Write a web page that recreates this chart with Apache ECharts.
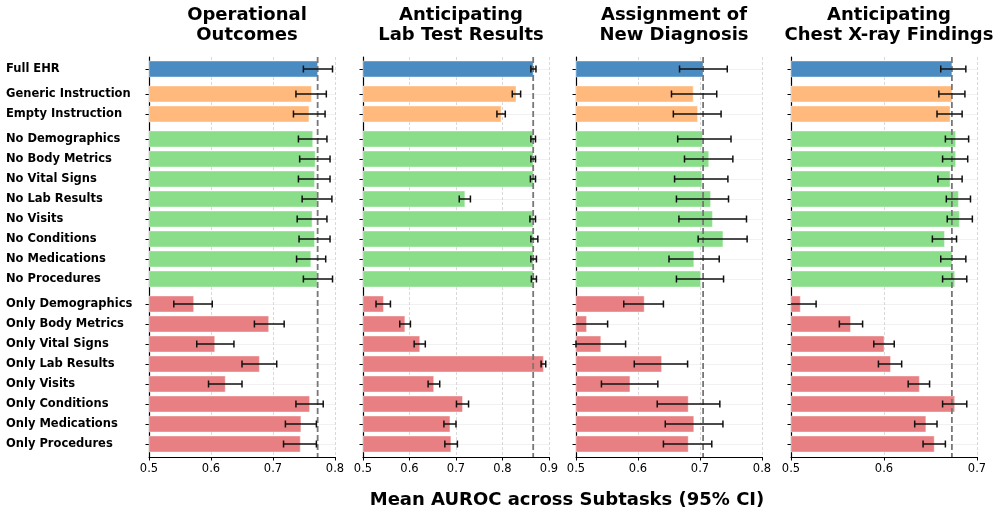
<!DOCTYPE html>
<html>
<head>
<meta charset="utf-8">
<script src="https://cdn.jsdelivr.net/npm/echarts@6/dist/echarts.min.js"></script>
<style>html,body{margin:0;padding:0;background:#fff}#c{width:996px;height:516px}</style>
</head>
<body>
<div id="c"></div>
<script>
const names = ['Full EHR','Generic Instruction','Empty Instruction','No Demographics','No Body Metrics','No Vital Signs','No Lab Results','No Visits','No Conditions','No Medications','No Procedures','Only Demographics','Only Body Metrics','Only Vital Signs','Only Lab Results','Only Visits','Only Conditions','Only Medications','Only Procedures'];
const groups = [0,1,1,2,2,2,2,2,2,2,2,3,3,3,3,3,3,3,3];
const panelTitles = ['Operational\nOutcomes','Anticipating\nLab Test Results','Assignment of\nNew Diagnosis','Anticipating\nChest X-ray Findings'];
const xMaxes = [0.8, 0.9, 0.8, 0.7];

const opMean = [0.772,0.762,0.758,0.764,0.768,0.767,0.771,0.763,0.767,0.761,0.771, 0.572,0.693,0.606,0.678,0.623,0.759,0.745,0.744];
const opLo   = [0.749,0.737,0.733,0.741,0.743,0.741,0.747,0.739,0.742,0.738,0.749, 0.540,0.670,0.577,0.650,0.596,0.737,0.720,0.717];
const opHi   = [0.796,0.786,0.784,0.787,0.792,0.792,0.795,0.787,0.792,0.785,0.796, 0.602,0.718,0.637,0.706,0.650,0.781,0.770,0.770];

const labMean = [0.866,0.829,0.797,0.866,0.866,0.866,0.719,0.866,0.866,0.866,0.866, 0.544,0.590,0.622,0.888,0.652,0.714,0.687,0.689];
const labLo   = [0.861,0.821,0.788,0.861,0.861,0.860,0.707,0.859,0.861,0.861,0.862, 0.528,0.579,0.610,0.883,0.640,0.701,0.674,0.676];
const labHi   = [0.872,0.839,0.806,0.871,0.871,0.871,0.731,0.871,0.876,0.873,0.873, 0.559,0.602,0.634,0.893,0.665,0.727,0.700,0.703];

const dxMean = [0.705,0.689,0.696,0.704,0.714,0.703,0.717,0.720,0.737,0.690,0.701, 0.610,0.517,0.540,0.638,0.587,0.681,0.690,0.681];
const dxLo   = [0.667,0.654,0.657,0.664,0.675,0.659,0.662,0.666,0.697,0.650,0.662, 0.577,0.484,0.500,0.594,0.541,0.631,0.644,0.641];
const dxHi   = [0.744,0.727,0.734,0.750,0.753,0.745,0.746,0.775,0.776,0.731,0.738, 0.641,0.551,0.580,0.680,0.632,0.732,0.737,0.719];

const cxrMean = [0.673,0.673,0.671,0.677,0.677,0.671,0.680,0.681,0.665,0.673,0.676, 0.510,0.564,0.600,0.607,0.638,0.676,0.645,0.654];
const cxrLo   = [0.661,0.659,0.657,0.666,0.663,0.658,0.667,0.668,0.652,0.661,0.663, 0.494,0.552,0.589,0.594,0.626,0.663,0.633,0.642];
const cxrHi   = [0.688,0.687,0.684,0.691,0.690,0.684,0.693,0.695,0.678,0.688,0.689, 0.527,0.577,0.611,0.619,0.649,0.689,0.657,0.666];

const panels = [[opMean,opLo,opHi],[labMean,labLo,labHi],[dxMean,dxLo,dxHi],[cxrMean,cxrLo,cxrHi]];
const palette = ['#4a8cc2','#ffb97c','#8ade8a','#e88083'];
const FONT = 'DejaVu Sans';

// row position: index plus a small gap between groups
const pos = names.map((n,i)=> i + 0.25*groups[i]);
const posName = {};
pos.forEach((p,i)=>{ posName[Math.round(p*100)] = names[i]; });
const yMin = -0.6, yMax = 19.4;

const gridLefts = [149, 363, 576, 791];
const gridW = 186, gridTop = 57, gridH = 400;

const option = {
  animation:false,
  backgroundColor:'#fff',
  title: panelTitles.map((t,k)=>({
    text:t, left: gridLefts[k]+gridW/2, top: 0, textAlign:'center',
    textStyle:{fontFamily:FONT, fontSize:18, fontWeight:'bold', color:'#000', lineHeight:20}
  })).concat([{
    text:'Mean AUROC across Subtasks (95% CI)', left: 562, top: 486, textAlign:'center',
    textStyle:{fontFamily:FONT, fontSize:18, fontWeight:'bold', color:'#000'}
  }]),
  grid: gridLefts.map(l=>({left:l, top:gridTop, width:gridW, height:gridH, containLabel:false})),
  xAxis: xMaxes.map((mx,k)=>({
    type:'value', gridIndex:k, min:0.5, max:mx, interval:0.1,
    axisLine:{show:true, onZero:false, lineStyle:{color:'#000', width:1.2}},
    axisTick:{show:true, length:3.5, lineStyle:{color:'#000', width:1}},
    axisLabel:{fontFamily:FONT, fontSize:11.5, color:'#000', margin:6,
      formatter:v=>v.toFixed(1)},
    splitLine:{show:true, lineStyle:{color:'#cfcfcf', type:[3,2], width:0.8}}
  })),
  yAxis: xMaxes.map((mx,k)=>({
    type:'value', gridIndex:k, min:yMin, max:yMax, inverse:true,
    axisLine:{show:true, onZero:false, lineStyle:{color:'#000', width:1.2}},
    axisTick:{show:true, length:3.5, customValues:pos, lineStyle:{color:'#000', width:1}},
    axisLabel:{show:k===0, customValues:pos, align:'left', margin:143,
      fontFamily:FONT, fontSize:11.5, fontWeight:'bold', color:'#000',
      formatter:v=>posName[Math.round(v*100)]||''},
    splitLine:{show:true, lineStyle:{color:'#eeeeee', width:0.8}}
  })),
  series: []
};

panels.forEach((pd,k)=>{
  const [mean, lo, hi] = pd;
  option.series.push({
    type:'custom', xAxisIndex:k, yAxisIndex:k, z:2,
    data: mean.map((m,i)=>[m, pos[i], groups[i]]),
    renderItem:(params, api)=>{
      const v = api.value(0), p = api.value(1), g = api.value(2);
      const a = api.coord([0.5, p]);
      const b = api.coord([v, p]);
      const h = api.size([0, 0.8])[1];
      return {type:'rect', shape:{x:a[0], y:a[1]-h/2, width:b[0]-a[0], height:h},
        style:{fill:palette[g], stroke:'rgba(255,255,255,0.5)', lineWidth:0.8}};
    }
  });
  option.series.push({
    type:'line', xAxisIndex:k, yAxisIndex:k, z:3, symbol:'none', silent:true,
    data:[[mean[0], yMin],[mean[0], yMax]],
    lineStyle:{color:'#777', width:1.8, type:[6,3]}
  });
  option.series.push({
    type:'custom', xAxisIndex:k, yAxisIndex:k, z:4,
    data: lo.map((l,i)=>[l, hi[i], pos[i]]),
    renderItem:(params, api)=>{
      const l = api.value(0), h = api.value(1), p = api.value(2);
      const lc = Math.max(l, 0.5);
      const a = api.coord([lc, p]);
      const b = api.coord([h, p]);
      const cap = 3.5;
      const st = {stroke:'#111', lineWidth:1.5};
      const ch = [
        {type:'line', shape:{x1:a[0], y1:a[1], x2:b[0], y2:b[1]}, style:st},
        {type:'line', shape:{x1:b[0], y1:b[1]-cap, x2:b[0], y2:b[1]+cap}, style:st}
      ];
      if (l >= 0.5) ch.push({type:'line', shape:{x1:a[0], y1:a[1]-cap, x2:a[0], y2:a[1]+cap}, style:st});
      return {type:'group', children:ch};
    }
  });
});

const chart = echarts.init(document.getElementById('c'), null, {renderer:'canvas'});
chart.setOption(option);
</script>
</body>
</html>
